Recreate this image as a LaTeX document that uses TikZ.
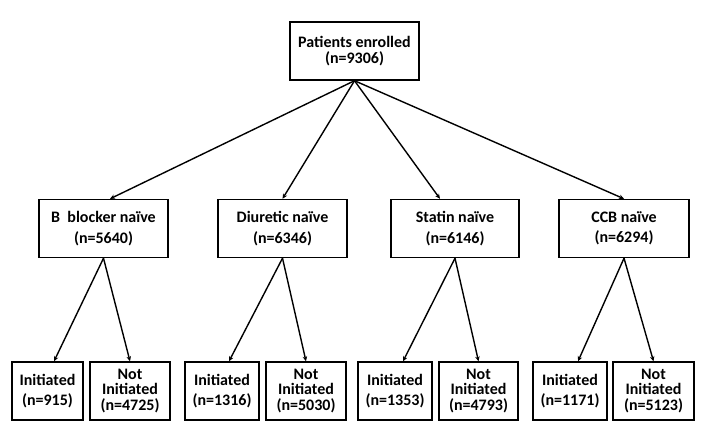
\documentclass[tikz,border=0pt]{standalone}
\usepackage{fontspec}
\setmainfont{Carlito}
\usetikzlibrary{arrows.meta}
\begin{document}
\begin{tikzpicture}[x=1pt,y=-1pt,line width=1.4pt,>={Stealth[length=5pt,width=4.5pt]}]
  \tikzstyle{every node}=[font=\bfseries\fontsize{16}{15.5}\selectfont, align=center]
  \tikzstyle{box}=[draw, inner sep=0pt, minimum height=58pt]
  \useasboundingbox (0,0) rectangle (708,440);
  \node[box, minimum width=129pt] (enr) at (354.5,51) {Patients enrolled\\(n=9306)};
  \node[box, minimum width=129pt] (bb) at (103.5,228.5) {B~ blocker naïve\\[5pt](n=5640)};
  \node[box, minimum width=129pt] (diu) at (282.5,228.5) {Diuretic naïve\\[5pt](n=6346)};
  \node[box, minimum width=128pt] (sta) at (455,228.5) {Statin naïve\\[5pt](n=6146)};
  \node[box, minimum width=130pt] (ccb) at (624,228.5) {CCB naïve\\[5pt](n=6294)};
  \node[box, minimum width=71pt] (bbI) at (47.5,391) {Initiated\\[4pt](n=915)};
  \node[box, minimum width=80pt] (bbN) at (130,391) {Not\\Initiated\\(n=4725)};
  \node[box, minimum width=74pt] (diuI) at (222,391) {Initiated\\[4pt](n=1316)};
  \node[box, minimum width=80pt] (diuN) at (306,391) {Not\\Initiated\\(n=5030)};
  \node[box, minimum width=74pt] (staI) at (395,391) {Initiated\\[4pt](n=1353)};
  \node[box, minimum width=79pt] (staN) at (478.5,391) {Not\\Initiated\\(n=4793)};
  \node[box, minimum width=74pt] (ccbI) at (570,391) {Initiated\\[4pt](n=1171)};
  \node[box, minimum width=81pt] (ccbN) at (653.5,391) {Not\\Initiated\\(n=5123)};
  \path [->]
    (enr.south) edge ([xshift=6.5pt]bb.north)
    (enr.south) edge (diu.north)
    (enr.south) edge ([xshift=-15pt]sta.north)
    (enr.south) edge (ccb.north)
    (bb.south) edge ([xshift=6.5pt]bbI.north)
    (bb.south) edge (bbN.north)
    (diu.south) edge ([xshift=7pt]diuI.north)
    (diu.south) edge (diuN.north)
    (sta.south) edge ([xshift=8pt]staI.north)
    (sta.south) edge (staN.north)
    (ccb.south) edge ([xshift=8pt]ccbI.north)
    (ccb.south) edge (ccbN.north)
    ;
\end{tikzpicture}
\end{document}
